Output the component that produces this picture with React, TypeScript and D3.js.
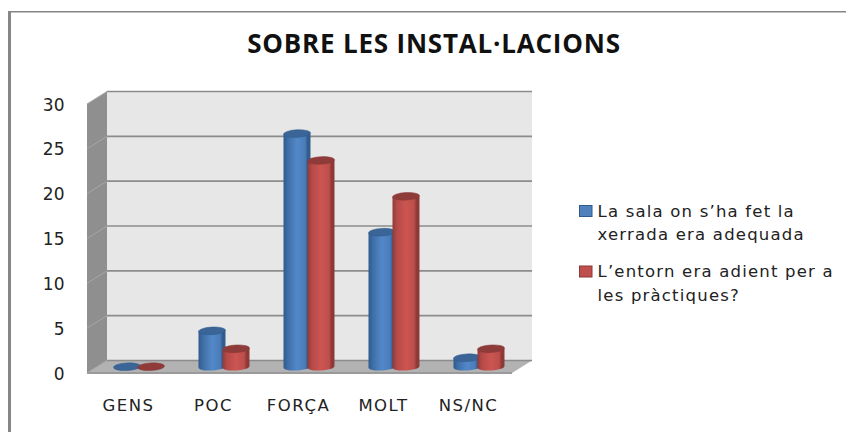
import React, { useEffect, useRef } from "react";
import * as d3 from "d3";

const categories = ["GENS", "POC", "FORÇA", "MOLT", "NS/NC"];
const seriesA = [0, 4, 26, 15, 1];
const seriesB = [0, 2, 23, 19, 2];
const ticks = [0, 5, 10, 15, 20, 25, 30];
const titleText = "SOBRE LES INSTAL·LACIONS";
const legendA = ["La sala on s’ha fet la", "xerrada era adequada"];
const legendB = ["L’entorn era adient per a", "les pràctiques?"];
const FONT = "'DejaVu Sans', 'Open Sans', sans-serif";
const TITLE_FONT = "'Open Sans', 'Noto Sans', sans-serif";

export default function App() {
  const ref = useRef<SVGSVGElement>(null);
  useEffect(() => {
    const svg = d3.select(ref.current);
    svg.selectAll("*").remove();
    const W = 846, H = 432;
    const defs = svg.append("defs");
    const grad = (id: string, stops: [number, string][]) => {
      const g = defs.append("linearGradient").attr("id", id).attr("x1", 0).attr("x2", 1).attr("y1", 0).attr("y2", 0);
      stops.forEach(([o, c]) => g.append("stop").attr("offset", o).attr("stop-color", c));
    };
    grad("gb", [[0, "#2f5a8c"], [0.16, "#3e6ea6"], [0.5, "#5388c8"], [0.8, "#4a7cb8"], [0.9, "#2f5a8c"], [1, "#32608f"]]);
    grad("gr", [[0, "#8f3a38"], [0.16, "#b54a48"], [0.5, "#cc5551"], [0.8, "#bd4e4b"], [0.9, "#8a3836"], [1, "#8f3a38"]]);

    svg.append("rect").attr("width", W).attr("height", H).attr("fill", "#fff");
    svg.append("rect").attr("x", 8).attr("y", 11).attr("width", 3).attr("height", H - 11).attr("fill", "#868686");
    svg.append("rect").attr("x", 8).attr("y", 11).attr("width", W - 8).attr("height", 1.5).attr("fill", "#868686");

    const xFront = d3.scaleBand<string>().domain(categories).range([87, 512]);
    const depthX = 20, depthY = 12.5;
    const yBack = d3.scaleLinear().domain([0, 30]).range([360.5, 91.5]);
    const left = 87, right = 512, floorFront = yBack(0) + depthY;

    svg.append("rect").attr("x", left + depthX).attr("y", yBack(30)).attr("width", right - left).attr("height", yBack(0) - yBack(30)).attr("fill", "#e7e7e7");
    svg.append("polygon").attr("points", `${left},${yBack(30) + depthY} ${left + depthX},${yBack(30)} ${left + depthX},${yBack(0)} ${left},${floorFront}`).attr("fill", "#8f8f8f");
    svg.append("polygon").attr("points", `${left},${floorFront} ${left + depthX},${yBack(0)} ${right + depthX},${yBack(0)} ${right},${floorFront}`).attr("fill", "#b2b2b2");
    svg.append("rect").attr("x", left).attr("y", floorFront - 1).attr("width", right - left).attr("height", 2).attr("fill", "#9a9a9a");

    ticks.forEach((t) => {
      const y = yBack(t);
      svg.append("line").attr("x1", left + depthX).attr("x2", right + depthX).attr("y1", y).attr("y2", y).attr("stroke", "#8c8c8c").attr("stroke-width", 1.6);
      svg.append("line").attr("x1", left).attr("x2", left + depthX).attr("y1", y + depthY).attr("y2", y).attr("stroke", "#a6a6a6").attr("stroke-width", 1);
      svg.append("text").attr("x", 64.5).attr("y", y + depthY + 6.5).attr("text-anchor", "end").attr("font-family", FONT).attr("font-size", 17).attr("fill", "#222").text(t);
    });

    const base = yBack(0) + 6.2;
    const unit = (yBack(0) - yBack(5)) / 5;
    const bw = 27, ry = 3.8, tilt = -3;
    const centre = (c: string) => (xFront(c) as number) + xFront.bandwidth() / 2 + 9.5;

    const drawBar = (cx: number, v: number, fill: string, edge: string, top: string) => {
      const g = svg.append("g");
      const yTop = base - v * unit;
      const rx = bw / 2;
      const dy = rx * Math.sin((tilt * Math.PI) / 180);
      if (v > 0) {
        const path = d3.path();
        path.moveTo(cx - rx, yTop - dy);
        path.lineTo(cx - rx, base - dy);
        path.bezierCurveTo(cx - rx, base - dy + ry * 1.3, cx + rx, base + dy + ry * 1.3, cx + rx, base + dy);
        path.lineTo(cx + rx, yTop + dy);
        path.closePath();
        g.append("path").attr("d", path.toString()).attr("fill", fill);
      }
      g.append("ellipse").attr("cx", cx).attr("cy", yTop).attr("rx", rx).attr("ry", ry)
        .attr("transform", `rotate(${tilt} ${cx} ${yTop})`).attr("fill", top).attr("stroke", edge).attr("stroke-width", 0.5);
    };

    categories.forEach((c, i) => {
      const cx = centre(c);
      drawBar(cx - 12, seriesA[i], "url(#gb)", "#2f5a8c", "#3a6596");
      drawBar(cx + 12, seriesB[i], "url(#gr)", "#8a3836", "#8f3b39");
      svg.append("text").attr("x", cx - 10.5).attr("y", 410.5).attr("text-anchor", "middle").attr("font-family", FONT).attr("font-size", 16.5).attr("letter-spacing", 1.5).attr("fill", "#222").text(c);
    });

    svg.append("text").attr("x", 434).attr("y", 53).attr("text-anchor", "middle").attr("font-family", TITLE_FONT).attr("font-weight", 700).attr("font-size", 26).attr("letter-spacing", 0.8).attr("fill", "#111").text(titleText);

    const legend = (y: number, fill: string, stroke: string, lines: string[]) => {
      svg.append("rect").attr("x", 579.5).attr("y", y).attr("width", 12.5).attr("height", 11).attr("fill", fill).attr("stroke", stroke).attr("stroke-width", 1);
      lines.forEach((l, i) => {
        svg.append("text").attr("x", 597.5).attr("y", y + 11 + i * 23.5).attr("font-family", FONT).attr("font-size", 16.5).attr("letter-spacing", 1.2).attr("fill", "#222").text(l);
      });
    };
    legend(205.5, "#4f81bd", "#2f5a8c", legendA);
    legend(266, "#c0504d", "#8a3836", legendB);
  }, []);
  return <svg ref={ref} width={846} height={432} style={{ position: "absolute", left: 0, top: 0 }} />;
}
